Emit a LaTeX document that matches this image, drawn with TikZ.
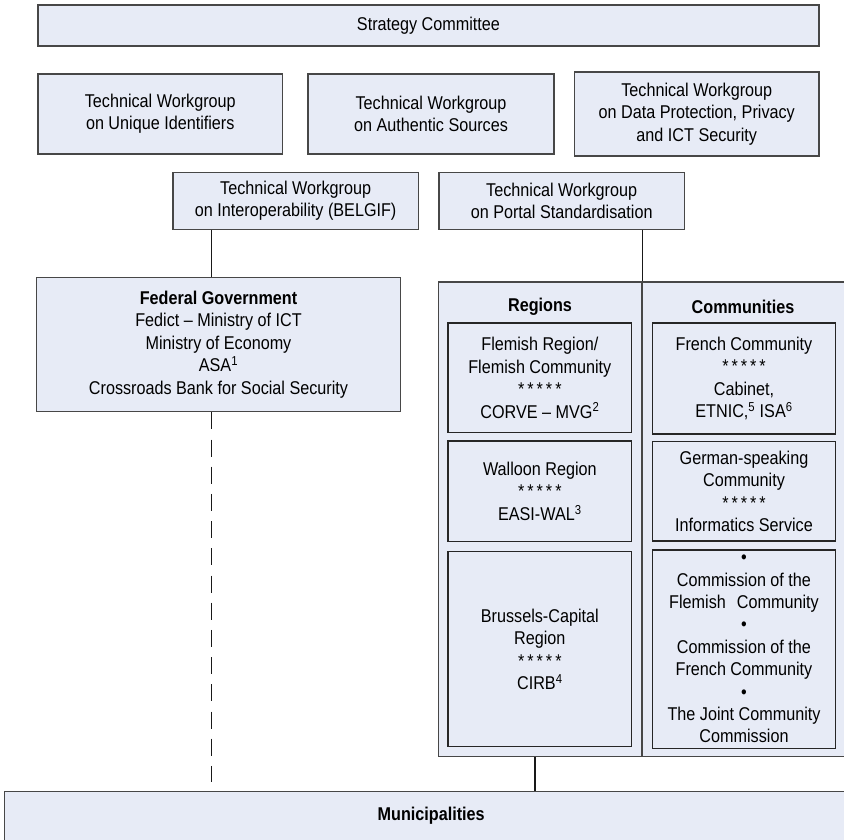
\documentclass[tikz,border=0pt]{standalone}
\usepackage{fontspec}
\setmainfont{Liberation Sans}[FakeStretch=0.875]
\definecolor{boxfill}{HTML}{E7EBF6}
\definecolor{boxline}{HTML}{474747}
\newcommand\fivestars{*\hspace{3pt}*\hspace{3pt}*\hspace{3pt}*\hspace{3pt}*}
\begin{document}
\begin{tikzpicture}[x=1pt,y=-1pt,
  box/.style={draw=boxline, fill=boxfill, line width=1.2pt, rectangle, inner sep=0pt,
    align=center, font=\fontsize{18.5}{22.4}\selectfont},
  subbox/.style={box, draw=black!85},
  conn/.style={draw=black!90, line width=1.2pt},
  dashconn/.style={conn, dash pattern=on 17pt off 10.2pt},
  head/.style={font=\fontsize{18.5}{22.4}\selectfont\bfseries, inner sep=0pt}]
\useasboundingbox (0,0) rectangle (844,839);
\clip (0,0) rectangle (844,839);

% top rows
\node[box, minimum width=781pt, minimum height=41pt] (strat) at (428.5,25.5) {Strategy Committee};
\node[box, minimum width=244.5pt, minimum height=80pt] (wg1) at (160.25,114) {Technical Workgroup\\on Unique Identifiers};
\node[box, minimum width=246pt, minimum height=80pt] (wg2) at (431,114) {Technical Workgroup\\on Authentic Sources};
\node[box, minimum width=244.5pt, minimum height=84pt] (wg3) at (696.75,114) {Technical Workgroup\\on Data Protection, Privacy\\and ICT Security};
\node[box, minimum width=245.3pt, minimum height=57.2pt] (wg4) at (295.65,200.9) {Technical Workgroup\\on Interoperability (BELGIF)};
\node[box, minimum width=245.3pt, minimum height=57.2pt] (wg5) at (561.65,200.9) {Technical Workgroup\\on Portal Standardisation};

% federal
\node[box, minimum width=364.4pt, minimum height=134.4pt] (fed) at (218.5,344.5)
  {\textbf{Federal Government}\\Fedict – Ministry of ICT\\Ministry of Economy\\ASA\textsuperscript{1}\\Crossroads Bank for Social Security};

% regions / communities outer columns
\node[box, minimum width=203.7pt, minimum height=474.7pt] (regcol) at (540.15,519.35) {};
\node[box, minimum width=218pt, minimum height=474.7pt] (comcol) at (751,519.35) {};
\node[head] (reghead) at (540,306.7) {Regions};
\node[head] (comhead) at (743,306.7) {Communities};

\node[subbox, minimum width=183.7pt, minimum height=109.7pt] (reg1) at (539.85,377.85)
  {Flemish Region/\\Flemish Community\\\fivestars\\CORVE – MVG\textsuperscript{2}};
\node[subbox, minimum width=183.7pt, minimum height=100.7pt] (reg2) at (539.85,491.35)
  {Walloon Region\\\fivestars\\EASI-WAL\textsuperscript{3}};
\node[subbox, minimum width=183.7pt, minimum height=195pt] (reg3) at (539.85,649.2)
  {Brussels-Capital\\Region\\\fivestars\\CIRB\textsuperscript{4}};

\node[subbox, minimum width=183.4pt, minimum height=111pt] (com1) at (744,378.5)
  {French Community\\\fivestars\\Cabinet,\\ETNIC,\textsuperscript{5} ISA\textsuperscript{6}};
\node[subbox, minimum width=183.4pt, minimum height=99.3pt] (com2) at (744,491.35)
  {German-speaking\\Community\\\fivestars\\Informatics Service};
\node[subbox, minimum width=183.4pt, minimum height=198.3pt] (com3) at (744,649.15)
  {•\\Commission of the\\Flemish\hspace{0.6em}Community\\•\\Commission of the\\French Community\\•\\The Joint Community\\Commission};

% municipalities
\node[box, minimum width=853.7pt, minimum height=49pt] (muni) at (431.15,816) {\textbf{Municipalities}};

% connectors
\coordinate (cfed) at (211.3,0);
\coordinate (creg) at (535,0);
\draw[conn] (wg4.south -| cfed) -- (fed.north -| cfed);
\draw[dashconn] (fed.south -| cfed) -- ([yshift=8.8pt]muni.north -| cfed);
\draw[conn] (wg5.south -| regcol.north east) -- (regcol.north east);
\draw[conn] (regcol.south -| creg) -- (muni.north -| creg);
\end{tikzpicture}
\end{document}
